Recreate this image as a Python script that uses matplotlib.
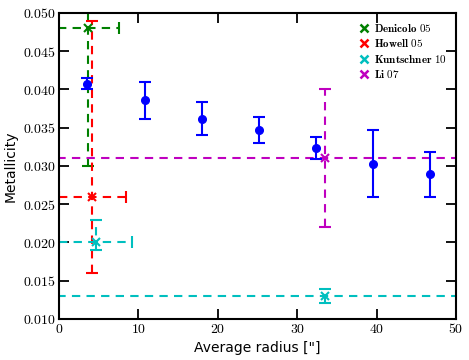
import matplotlib
matplotlib.use("Agg")
import matplotlib.pyplot as plt
from matplotlib.ticker import FuncFormatter, MultipleLocator
from matplotlib.lines import Line2D

plt.rcParams['mathtext.fontset'] = 'cm'

# Own measurements
radius = [3.5, 10.8, 18.0, 25.2, 32.4, 39.6, 46.7]
metal = [0.0407, 0.0386, 0.0362, 0.0347, 0.0323, 0.0303, 0.0289]
metal_lo = [0.0007, 0.0025, 0.0021, 0.0017, 0.0014, 0.0044, 0.0029]
metal_hi = [0.0008, 0.0024, 0.0021, 0.0017, 0.0015, 0.0044, 0.0029]

# Literature values
lit_names = ["Denicolo 05", "Howell 05", "Kuntschner 10", "Li 07"]
lit_colors = ["g", "r", "c", "m"]
lit_x = [[3.7], [4.2], [4.6, 33.5], [33.5]]
lit_y = [[0.048], [0.026], [0.020, 0.013], [0.031]]
lit_xerr = [[3.8], [4.2], [4.6, 100.0], [100.0]]
lit_yerr_lo = [[0.018], [0.010], [0.0010, 0.0009], [0.009]]
lit_yerr_hi = [[0.018], [0.023], [0.0029, 0.0009], [0.009]]

fig = plt.figure(figsize=(4.69, 3.6), dpi=100)
ax = fig.add_axes([0.126, 0.114, 0.846, 0.85])

handles = []
for name, col, xs, ys, xe, ylo, yhi in zip(lit_names, lit_colors, lit_x, lit_y,
                                            lit_xerr, lit_yerr_lo, lit_yerr_hi):
    eb = ax.errorbar(xs, ys, xerr=xe, yerr=[ylo, yhi], fmt='x', color=col,
                     ms=6, mew=1.5, elinewidth=1.5, capsize=4, capthick=1.5)
    for lc in eb[2]:
        lc.set_linestyle((0, (4, 3)))
    handles.append(Line2D([], [], marker='x', ls='none', color=col, ms=6, mew=1.8,
                          label=r'$\mathbf{' + name.replace(' ', r'\ ') + '}$'))

ax.errorbar(radius, metal, yerr=[metal_lo, metal_hi], fmt='o', color='b',
            ms=5.5, elinewidth=1.5, capsize=4, capthick=1.5)

ax.set_xlim(0, 50)
ax.set_ylim(0.010, 0.050)
ax.xaxis.set_major_locator(MultipleLocator(10))
ax.yaxis.set_major_locator(MultipleLocator(0.005))
ax.xaxis.set_major_formatter(FuncFormatter(lambda v, p: r'$%d$' % v))
ax.yaxis.set_major_formatter(FuncFormatter(lambda v, p: r'$%.3f$' % v))
ax.tick_params(direction='in', length=7, width=1.3, top=True, right=True,
               labelsize=10, pad=2)
for s in ax.spines.values():
    s.set_linewidth(1.5)

ax.set_xlabel('Average radius ["]', fontsize=10, family='DejaVu Sans')
ax.set_ylabel('Metallicity', fontsize=10, family='DejaVu Sans')

ax.legend(handles=handles, loc='upper right', numpoints=1, frameon=False,
          fontsize=8, handletextpad=0.4, borderaxespad=0.4, labelspacing=0.3,
          handlelength=1.0)

fig.savefig('out.png', dpi=100)
